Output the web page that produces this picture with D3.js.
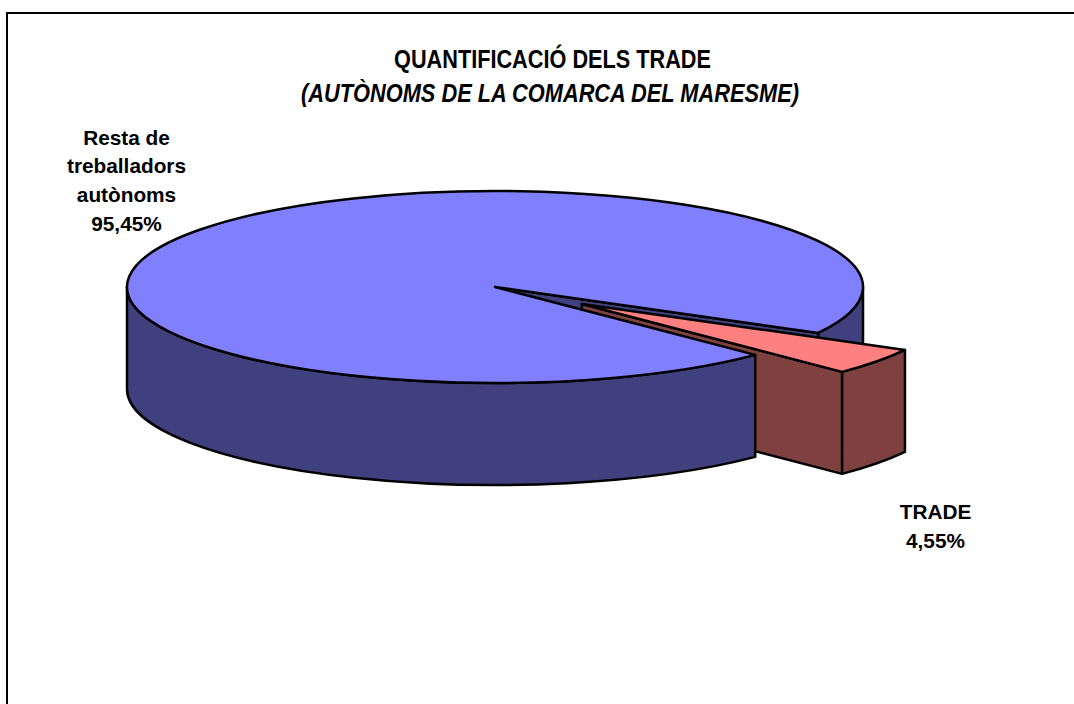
<!DOCTYPE html>
<html lang="ca">
<head>
  <meta charset="UTF-8" />
  <title>Quantificació dels TRADE</title>
  <style>
    body { margin: 0; background: #fff; }
    svg { display: block; }
    text { font-family: "Liberation Sans", Arial, sans-serif; font-weight: bold; fill: #000; text-anchor: middle; }
  </style>
</head>
<body>
  <div id="chart"></div>

  <script src="https://d3js.org/d3.v7.min.js"></script>
  <script>
    const categories = ["Resta de treballadors autònoms", "TRADE"];
    const shares = [95.45, 4.55];
    const shareLabels = ["95,45%", "4,55%"];
    const labelLines = [["Resta de", "treballadors", "autònoms"], ["TRADE"]];
    const topColors = ["#8080ff", "#ff8080"];
    const wallColors = ["#40407f", "#7f4040"];
    const exploded = [0, 0.295];

    const width = 1074, height = 704;
    const cx = 495, cy = 287, rx = 368, ry = 96, depth = 102;

    const svg = d3.select("#chart").append("svg")
      .attr("width", width).attr("height", height);

    // frame runs off the right and bottom of the picture
    svg.append("rect")
      .attr("x", 7).attr("y", 13)
      .attr("width", width + 20).attr("height", height + 20)
      .attr("fill", "#fff").attr("stroke", "#000").attr("stroke-width", 2);

    const startAngle = 135 * Math.PI / 180;
    const slices = d3.pie().sort(null)
      .startAngle(startAngle)
      .endAngle(startAngle + 2 * Math.PI)(shares);

    function pt(a, dx, dy) {
      return [cx + dx + rx * Math.sin(a), cy + dy - ry * Math.cos(a)];
    }

    function offset(s, i) {
      const mid = (s.startAngle + s.endAngle) / 2;
      return [exploded[i] * rx * Math.sin(mid), -exploded[i] * ry * Math.cos(mid)];
    }

    function topPath(s, dx, dy) {
      const p0 = pt(s.startAngle, dx, dy), p1 = pt(s.endAngle, dx, dy);
      const large = s.endAngle - s.startAngle > Math.PI ? 1 : 0;
      return `M${cx + dx},${cy + dy}L${p0}A${rx},${ry} 0 ${large} 1 ${p1}Z`;
    }

    // outer curved wall between two angles
    function rimPath(a0, a1, dx, dy) {
      const p0 = pt(a0, dx, dy), p1 = pt(a1, dx, dy);
      return `M${p0}A${rx},${ry} 0 0 1 ${p1}L${p1[0]},${p1[1] + depth}` +
        `A${rx},${ry} 0 0 0 ${p0[0]},${p0[1] + depth}Z`;
    }

    // flat cut face from the centre out to the rim
    function cutPath(a, dx, dy) {
      const p = pt(a, dx, dy);
      return `M${cx + dx},${cy + dy}L${p}L${p[0]},${p[1] + depth}L${cx + dx},${cy + dy + depth}Z`;
    }

    function draw(d, fill) {
      svg.append("path").attr("d", d).attr("fill", fill)
        .attr("stroke", "#000").attr("stroke-width", 2.5).attr("stroke-linejoin", "round");
    }

    const [main, trade] = slices;
    const [tx, ty] = offset(trade, 1);
    const mainEnd = main.endAngle - 2 * Math.PI;

    // back to front
    draw(rimPath(Math.PI / 2, mainEnd, 0, 0), wallColors[0]);
    draw(cutPath(mainEnd, 0, 0), wallColors[0]);
    draw(cutPath(trade.endAngle, tx, ty), wallColors[1]);
    draw(rimPath(trade.startAngle, trade.endAngle, tx, ty), wallColors[1]);
    draw(topPath(trade, tx, ty), topColors[1]);
    draw(rimPath(main.startAngle, 1.5 * Math.PI, 0, 0), wallColors[0]);
    draw(topPath(main, 0, 0), topColors[0]);

    const title = svg.append("text").attr("x", 552).attr("font-size", 26);
    title.append("tspan").attr("x", 552.5).attr("y", 68)
      .attr("textLength", 317).attr("lengthAdjust", "spacingAndGlyphs")
      .text("QUANTIFICACIÓ DELS TRADE");
    title.append("tspan").attr("x", 550).attr("y", 101.5).attr("font-style", "italic")
      .attr("textLength", 498).attr("lengthAdjust", "spacingAndGlyphs")
      .text("(AUTÒNOMS DE LA COMARCA DEL MARESME)");

    const labelPos = [{ x: 126.5, y: 144.5, step: 28.7 }, { x: 935.5, y: 519, step: 29 }];
    categories.forEach((c, i) => {
      const lines = labelLines[i].concat(shareLabels[i]);
      const t = svg.append("text").attr("font-size", 20.8);
      lines.forEach((l, j) => {
        t.append("tspan").attr("x", labelPos[i].x)
          .attr("y", labelPos[i].y + j * labelPos[i].step).text(l);
      });
    });
  </script>
</body>
</html>
